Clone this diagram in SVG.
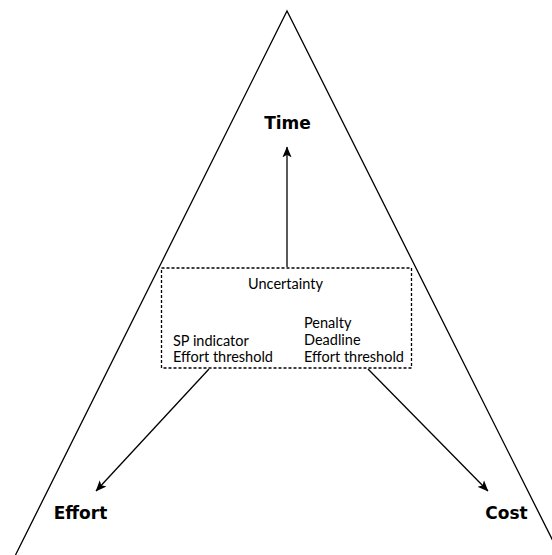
<svg xmlns="http://www.w3.org/2000/svg" width="552" height="555" viewBox="0 0 552 555">
  <defs>
    <style>
      .edge { fill: none; stroke: #000; stroke-width: 1.3; }
      .box { fill: none; stroke: #000; stroke-width: 1.3; stroke-dasharray: 3 2; }
      .corner { font-family: "DejaVu Sans", Verdana, sans-serif; font-weight: bold; font-size: 17px; fill: #000; text-anchor: middle; }
      .small { font-family: Lato, "Open Sans", sans-serif; font-size: 14.5px; fill: #000; }
    </style>
    <marker id="arrow" viewBox="0 0 10 10" refX="9.5" refY="5" markerWidth="11" markerHeight="11" markerUnits="userSpaceOnUse" orient="auto">
      <path d="M0,0.8 L10,5 L0,9.2 L2.5,5 z" fill="#000"/>
    </marker>
  </defs>
  <rect width="552" height="555" fill="#fff"/>

  <!-- outer triangle -->
  <g id="triangle">
    <polyline class="edge" points="15.5,555 287,11 560,555"/>
  </g>

  <!-- connectors -->
  <g id="connectors">
    <line class="edge" x1="287" y1="267" x2="287" y2="147" marker-end="url(#arrow)"/>
    <line class="edge" x1="209" y1="369" x2="96" y2="491" marker-end="url(#arrow)"/>
    <line class="edge" x1="368" y1="369" x2="488" y2="491" marker-end="url(#arrow)"/>
  </g>

  <!-- central uncertainty box -->
  <g id="uncertainty">
    <rect class="box" x="161.5" y="268" width="250" height="100"/>
    <text class="small" x="285.5" y="289" text-anchor="middle">Uncertainty</text>
    <text class="small" x="173" y="346">SP indicator</text>
    <text class="small" x="173" y="362">Effort threshold</text>
    <text class="small" x="304" y="328">Penalty</text>
    <text class="small" x="304" y="345">Deadline</text>
    <text class="small" x="304" y="362">Effort threshold</text>
  </g>

  <g id="time">
    <text class="corner" x="287.5" y="129">Time</text>
  </g>
  <g id="effort">
    <text class="corner" x="80.5" y="519">Effort</text>
  </g>
  <g id="cost">
    <text class="corner" x="506.5" y="519">Cost</text>
  </g>
</svg>
